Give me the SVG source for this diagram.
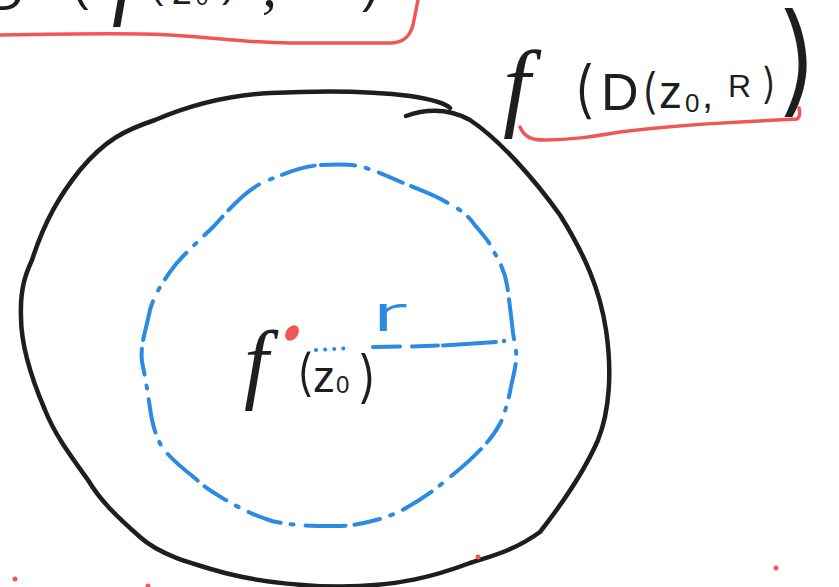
<svg xmlns="http://www.w3.org/2000/svg" width="839" height="587" viewBox="0 0 839 587">
<style>
.ink{fill:none;stroke:#1e1e1e;stroke-width:4.5;stroke-linecap:round;stroke-linejoin:round}
.blue{fill:none;stroke:#2b8ae2;stroke-width:4;stroke-linecap:round;stroke-linejoin:round}
.red{fill:none;stroke:#ef5656;stroke-width:3.5;stroke-linecap:round;stroke-linejoin:round}
.dot{fill:#ef5656}
.t{font-family:"Liberation Sans","DejaVu Sans",sans-serif;fill:#1e1e1e}
.tl{font-family:Inter,"Liberation Sans",sans-serif;font-weight:300;fill:#1e1e1e}
.fi{font-family:"Liberation Serif","DejaVu Serif",serif;font-style:italic;fill:#1e1e1e}
.tb{font-family:Inter,"Liberation Sans",sans-serif;font-weight:300;fill:#2b8ae2}
</style>
<rect width="839" height="587" fill="#ffffff"/>

<g id="top-left-label">
  <path class="red" d="M 0,35 C 60,34 140,33 170,35 C 220,38 250,43 290,43 L 390,43 C 404,43 410,36 413,25 L 418,0"/>
  <text class="t" x="-12" y="10" font-size="50">D</text>
  <text class="t" x="72" y="0" font-size="50">(</text>
  <text class="fi" x="112" y="8" font-size="90">f</text>
  <text class="t" x="150" y="-2" font-size="40">(</text>
  <text class="t" x="172" y="4" font-size="40">z</text>
  <text class="t" x="196" y="5" font-size="22">0</text>
  <text class="t" x="222" y="-3" font-size="40">)</text>
  <text class="fi" x="262" y="6" font-size="60">,</text>
  <text class="t" x="310" y="-6" font-size="40">r</text>
  <text class="t" x="362" y="2" font-size="50">)</text>
</g>

<g id="image-region">
  <path class="ink" d="M 406,116 Q 440,104 470,120 C 500,140 535,180 560,215 C 585,255 600,290 606,330 C 612,370 610,410 598,440 C 585,470 565,500 540,532 C 515,550 495,555 470,563 C 430,578 400,584 360,586 C 310,588 260,582 225,573 C 190,563 160,555 140,537 C 115,515 100,500 88,480 C 70,455 55,435 45,410 C 30,375 21,345 21,317 C 20,290 25,275 32,260 C 45,220 60,195 80,170 C 105,140 125,130 155,120 C 190,105 230,95 270,93 C 330,90 380,92 410,96 C 430,99 445,103 450,108"/>
</g>

<g id="label-fD">
  <text class="fi" x="503" y="118" font-size="98">f</text>
  <text class="tl" x="573" y="111" font-size="62">(</text>
  <text class="t" x="601" y="110" font-size="52">D</text>
  <text class="tl" x="641" y="108" font-size="48">(</text>
  <text class="t" x="659" y="108" font-size="46">z</text>
  <text class="t" x="685" y="112" font-size="26">0</text>
  <text class="t" x="702" y="108" font-size="40">,</text>
  <text class="t" x="728" y="97" font-size="32">R</text>
  <text class="tl" x="762" y="98" font-size="42">)</text>
  <text class="tl" x="778" y="101" font-size="120">)</text>
  <path class="red" d="M 520,127 C 525,138 532,140 545,140 C 570,140 590,137 620,132 C 660,127 700,124 740,122 L 797,119 C 800,117 800,112 799,108"/>
</g>

<g id="inner-disk">
  <path class="blue" stroke-dasharray="34 11 3 11 26 9 40 12 3 10" d="M 321,165 C 340,164 355,164 366,168 C 385,174 395,180 406,184 C 420,190 435,195 446,202 C 458,208 468,215 474,224 C 482,234 490,242 494,252 C 500,262 505,272 507,285 C 509,298 511,315 513,333 C 515,345 517,352 516,360 C 515,372 512,380 510,392 C 507,405 505,412 501,422 C 494,435 488,442 480,450 C 468,463 456,472 444,482 C 432,492 420,500 406,508 C 395,514 385,518 372,521 C 360,524 350,526 336,526 C 315,526 292,526 272,521 C 255,516 240,508 229,502 C 216,494 205,488 196,479 C 182,468 170,458 162,447 C 155,435 152,422 150,408 C 148,395 146,380 142,362 C 140,345 146,330 150,310 C 154,295 165,278 176,264 C 188,250 202,238 214,226 C 224,215 233,205 242,197 C 252,188 262,182 274,178 C 288,172 305,166 321,165"/>
  <ellipse class="dot" cx="292" cy="333" rx="6" ry="8.5" transform="rotate(35 292 333)"/>
  <text class="tb" x="371" y="331" font-size="50" textLength="38" lengthAdjust="spacingAndGlyphs">r</text>
</g>

<g id="connectors">
  <path class="blue" stroke-dasharray="0.1 9" d="M 316,350 L 352,348"/>
  <path class="blue" d="M 373,347 L 400,346.5 M 412,346.5 L 438,345.5 M 443,345.5 L 496,342"/>
  <circle cx="504" cy="341" r="2.3" fill="#2b8ae2"/>
</g>

<g id="center-label">
  <text class="fi" x="244" y="392" font-size="88">f</text>
  <text class="tl" x="296" y="390" font-size="50">(</text>
  <text class="t" x="313" y="392" font-size="44">z</text>
  <text class="t" x="336" y="393" font-size="24">0</text>
  <text class="tl" x="358" y="396" font-size="56">)</text>
</g>

<g id="marks">
  <circle class="dot" cx="15" cy="579" r="2.5"/>
  <circle class="dot" cx="148" cy="586" r="2.5"/>
  <circle class="dot" cx="478" cy="557" r="2.5"/>
  <circle class="dot" cx="776" cy="568" r="2.5"/>
</g>
</svg>
